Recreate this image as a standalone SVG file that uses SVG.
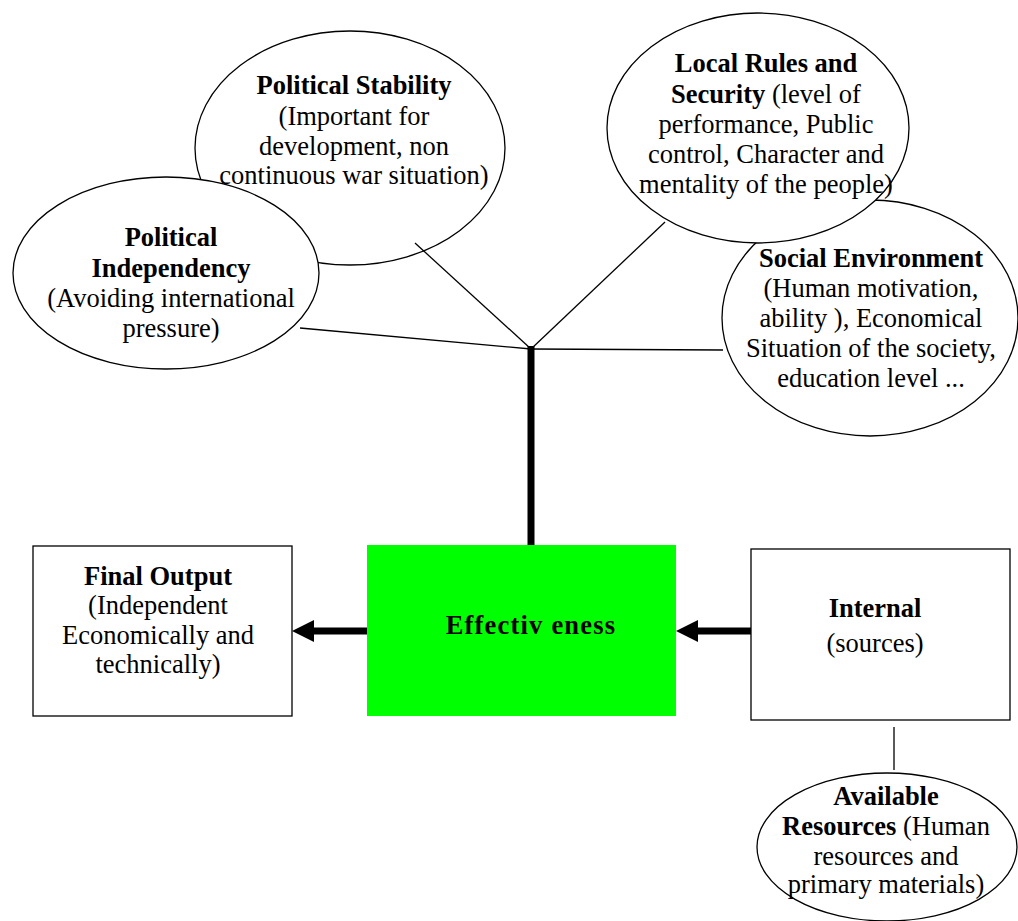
<svg xmlns="http://www.w3.org/2000/svg" width="1018" height="921" viewBox="0 0 1018 921">
<style>
.sh{fill:#fff;stroke:#000;stroke-width:1.3}
.t{font-family:"Liberation Serif","Times New Roman",serif;font-size:26.5px;fill:#000;text-anchor:middle}
.b{font-weight:bold}
.thin{stroke:#000;stroke-width:1.3;fill:none}
.thick{stroke:#000;stroke-width:7;fill:none}
</style>
<defs>
<marker id="ah" markerWidth="6" markerHeight="6" refX="0" refY="3" orient="auto" markerUnits="userSpaceOnUse" viewBox="0 0 6 6">
<path d="M0,0 L6,3 L0,6 Z" fill="#000"/>
</marker>
</defs>
<g id="shapes">
<ellipse id="ps-shape" class="sh" cx="350" cy="148" rx="155" ry="117"/>
<ellipse id="pi-shape" class="sh" cx="166" cy="273" rx="153" ry="96"/>
<ellipse id="se-shape" class="sh" cx="870" cy="318" rx="148" ry="118"/>
<ellipse id="lr-shape" class="sh" cx="758" cy="128" rx="151" ry="115"/>
</g>
<g id="connectors">
<line class="thin" x1="531" y1="349" x2="415" y2="243"/>
<line class="thin" x1="531" y1="349" x2="665" y2="222"/>
<line class="thin" x1="531" y1="349" x2="300" y2="328"/>
<line class="thin" x1="531" y1="349" x2="723" y2="350"/>
<line class="thick" x1="531" y1="346" x2="531" y2="546"/>
<path d="M367,631 L312,631" class="thick"/>
<path d="M292,631 L314,620 L314,642 Z" fill="#000"/>
<path d="M751,631 L696,631" class="thick"/>
<path d="M676,631 L698,620 L698,642 Z" fill="#000"/>
<line class="thin" x1="894" y1="727" x2="894" y2="770"/>
</g>
<g id="political-stability">
<text class="t" x="354" y="94"><tspan class="b">Political Stability</tspan><tspan x="354" dy="31">(Important for</tspan><tspan x="354" dy="30">development, non</tspan><tspan x="354" dy="29">continuous war situation)</tspan></text>
</g>
<g id="political-independency">
<text class="t" x="171" y="246"><tspan class="b">Political</tspan><tspan class="b" x="171" dy="31">Independency</tspan><tspan x="171" dy="30">(Avoiding international</tspan><tspan x="171" dy="30">pressure)</tspan></text>
</g>
<g id="local-rules">
<text class="t" x="766" y="72"><tspan class="b">Local Rules and</tspan><tspan x="766" dy="31"><tspan class="b">Security</tspan> (level of</tspan><tspan x="766" dy="30">performance, Public</tspan><tspan x="766" dy="30">control, Character and</tspan><tspan x="766" dy="30">mentality of the people)</tspan></text>
</g>
<g id="social-environment">
<text class="t" x="871" y="267"><tspan class="b">Social Environment</tspan><tspan x="871" dy="30">(Human motivation,</tspan><tspan x="871" dy="30">ability ), Economical</tspan><tspan x="871" dy="30">Situation of the society,</tspan><tspan x="871" dy="30">education level ...</tspan></text>
</g>
<g id="final-output">
<rect class="sh" x="33" y="546" width="259" height="170"/>
<text class="t" x="158" y="585"><tspan class="b">Final Output</tspan><tspan x="158" dy="29">(Independent</tspan><tspan x="158" dy="30">Economically and</tspan><tspan x="158" dy="29">technically)</tspan></text>
</g>
<g id="effectiveness">
<rect x="367" y="545" width="309" height="171" fill="#00ff00"/>
<text class="t b" x="531" y="634" letter-spacing="1.2">Effectiv eness</text>
</g>
<g id="internal">
<rect class="sh" x="751" y="549" width="259" height="171"/>
<text class="t" x="875" y="617"><tspan class="b">Internal</tspan><tspan x="875" dy="35">(sources)</tspan></text>
</g>
<g id="available-resources">
<ellipse class="sh" cx="887" cy="847" rx="130" ry="74"/>
<text class="t" x="886" y="805"><tspan class="b">Available</tspan><tspan x="886" dy="30"><tspan class="b">Resources</tspan> (Human</tspan><tspan x="886" dy="30">resources and</tspan><tspan x="886" dy="28">primary materials)</tspan></text>
</g>
</svg>
